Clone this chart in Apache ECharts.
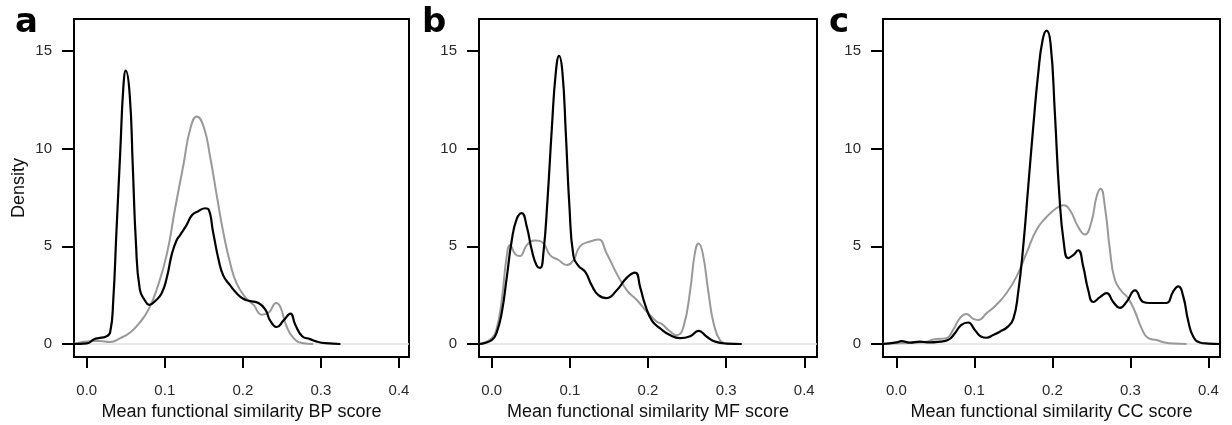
<!DOCTYPE html>
<html>
<head>
    <meta charset="UTF-8">
    <title>Mean functional similarity densities</title>
    <script src="https://cdn.jsdelivr.net/npm/echarts@6/dist/echarts.min.js"></script>
    <style>
        html, body { margin: 0; padding: 0; background: #fff; }
    </style>
</head>
<body>
    <div id="main" style="width:1232px; height:425px;"></div>

    <script>
        // tick values shared by the three panels
        var xTicks = [0, 0.1, 0.2, 0.3, 0.4];
        var yTicks = [0, 5, 10, 15];
        var panelLetters = ['a', 'b', 'c'];
        var xTitles = [
            'Mean functional similarity BP score',
            'Mean functional similarity MF score',
            'Mean functional similarity CC score'
        ];

        // density curves, [score, density]
        var bpBlack = [[-0.0165, 0], [0, 0.03], [0.0095, 0.24], [0.015, 0.3], [0.0243, 0.37], [0.03, 0.6],
            [0.034, 2.25], [0.038, 5.7], [0.043, 9.9], [0.047, 13.2], [0.050, 14.0], [0.055, 12.8],
            [0.059, 9.1], [0.063, 5.2], [0.068, 2.8], [0.075, 2.2], [0.080, 2.0], [0.0876, 2.2],
            [0.096, 2.6], [0.1026, 3.4], [0.109, 4.6], [0.115, 5.3], [0.120, 5.6], [0.128, 6.1],
            [0.135, 6.6], [0.143, 6.8], [0.152, 6.95], [0.156, 6.9], [0.162, 5.7], [0.169, 4.3],
            [0.175, 3.5], [0.1838, 3.0], [0.192, 2.6], [0.201, 2.3], [0.209, 2.2], [0.22, 2.1],
            [0.229, 1.75], [0.235, 1.2], [0.2436, 0.87], [0.252, 1.2], [0.261, 1.55], [0.267, 1.0],
            [0.276, 0.4], [0.286, 0.25], [0.295, 0.12], [0.306, 0.04], [0.325, 0]];
        var bpGrey = [[-0.0165, 0.02], [0.009, 0.15], [0.017, 0.15], [0.03, 0.1], [0.043, 0.3], [0.056, 0.6],
            [0.068, 1.1], [0.079, 1.75], [0.0897, 2.8], [0.1026, 4.6], [0.113, 6.9], [0.124, 9.2],
            [0.1325, 11.0], [0.141, 11.65], [0.150, 11.1], [0.158, 9.6], [0.167, 7.5], [0.175, 5.7],
            [0.184, 4.1], [0.192, 3.1], [0.203, 2.4], [0.2137, 2.0], [0.224, 1.5], [0.233, 1.6],
            [0.2427, 2.1], [0.248, 1.9], [0.256, 0.9], [0.265, 0.3], [0.276, 0.05], [0.29, 0]];

        var mfBlack = [[-0.0165, 0], [0, 0.2], [0.0064, 0.6], [0.0128, 1.6], [0.0192, 3.4], [0.0256, 5.3],
            [0.032, 6.4], [0.0384, 6.7], [0.0449, 6.0], [0.0513, 4.8], [0.0577, 4.0], [0.062, 3.9],
            [0.066, 4.6], [0.0714, 7.4], [0.077, 11.1], [0.082, 13.9], [0.0862, 14.75], [0.0905, 13.9],
            [0.0948, 10.8], [0.0995, 7.0], [0.1046, 4.5], [0.111, 4.0], [0.1195, 3.7], [0.128, 3.0],
            [0.1366, 2.5], [0.147, 2.35], [0.16, 2.75], [0.173, 3.4], [0.1836, 3.65], [0.19, 2.9],
            [0.1964, 2.0], [0.205, 1.2], [0.2156, 0.8], [0.228, 0.46], [0.241, 0.3], [0.254, 0.4],
            [0.2647, 0.67], [0.2753, 0.37], [0.286, 0.12], [0.301, 0.02], [0.32, 0]];
        var mfGrey = [[-0.0165, 0], [0, 0.3], [0.0064, 0.8], [0.0128, 2.25], [0.0192, 4.5], [0.0235, 5.07],
            [0.030, 4.6], [0.036, 4.5], [0.045, 5.07], [0.0555, 5.3], [0.066, 5.15], [0.0747, 4.55],
            [0.0854, 4.3], [0.096, 4.05], [0.1046, 4.3], [0.113, 5.0], [0.126, 5.25], [0.1366, 5.35],
            [0.147, 4.65], [0.16, 3.6], [0.173, 2.75], [0.1857, 2.25], [0.1985, 1.65], [0.211, 1.15],
            [0.218, 1.02], [0.226, 0.72], [0.237, 0.45], [0.2455, 0.9], [0.254, 2.75], [0.26, 4.65],
            [0.2647, 5.15], [0.27, 4.65], [0.2775, 2.6], [0.284, 1.06], [0.2925, 0.17], [0.301, 0.02],
            [0.305, 0]];

        var ccBlack = [[-0.0172, 0], [0, 0.08], [0.0064, 0.15], [0.017, 0.07], [0.03, 0.12], [0.043, 0.08],
            [0.0556, 0.12], [0.066, 0.2], [0.075, 0.55], [0.083, 0.97], [0.092, 1.1], [0.1005, 0.72],
            [0.109, 0.37], [0.1155, 0.32], [0.124, 0.46], [0.1326, 0.63], [0.143, 0.89], [0.15, 1.3],
            [0.156, 2.6], [0.1626, 5.0], [0.169, 8.05], [0.1754, 11.1], [0.1818, 13.85], [0.1874, 15.55],
            [0.1925, 16.04], [0.1976, 15.4], [0.2032, 11.8], [0.2088, 7.7], [0.2147, 5.15], [0.2203, 4.4],
            [0.2267, 4.55], [0.233, 4.8], [0.2396, 3.95], [0.246, 2.75], [0.2524, 2.15], [0.261, 2.4],
            [0.2695, 2.6], [0.278, 2.15], [0.2866, 1.85], [0.295, 2.15], [0.306, 2.75], [0.3166, 2.15],
            [0.325, 2.1], [0.336, 2.1], [0.3465, 2.1], [0.355, 2.7], [0.3615, 2.95], [0.368, 2.4],
            [0.374, 1.2], [0.3807, 0.37], [0.389, 0.08], [0.4, 0.02], [0.415, 0]];
        var ccGrey = [[-0.0172, 0.02], [0.03, 0.07], [0.0385, 0.12], [0.049, 0.24], [0.064, 0.3], [0.0727, 0.72],
            [0.081, 1.3], [0.0898, 1.54], [0.098, 1.3], [0.105, 1.23], [0.1155, 1.57], [0.128, 2.0],
            [0.141, 2.6], [0.154, 3.45], [0.1668, 4.65], [0.1797, 5.85], [0.1925, 6.5], [0.205, 6.95],
            [0.214, 7.1], [0.2225, 6.85], [0.233, 6.0], [0.2417, 5.6], [0.25, 6.25], [0.2567, 7.55],
            [0.2618, 7.95], [0.2674, 7.0], [0.2738, 4.8], [0.28, 3.3], [0.2888, 2.7], [0.297, 2.35],
            [0.306, 1.65], [0.3144, 0.8], [0.323, 0.3], [0.3337, 0.2], [0.344, 0.08], [0.355, 0.02],
            [0.372, 0]];

        var greyCurves = [bpGrey, mfGrey, ccGrey];
        var blackCurves = [bpBlack, mfBlack, ccBlack];

        // layout of the three boxes
        var panels = [
            { left: 74, width: 335, xmin: -0.0163, xmax: 0.4128, letterX: 15 },
            { left: 479, width: 338, xmin: -0.0163, xmax: 0.4163, letterX: 422 },
            { left: 883, width: 337, xmin: -0.0172, xmax: 0.4149, letterX: 829 }
        ];
        var plotTop = 19, plotHeight = 338;
        var yMin = -0.666, yMax = 16.64;

        var labelFont = 'Liberation Sans, Arial, sans-serif';

        var chart = echarts.init(document.getElementById('main'), null, { renderer: 'canvas' });

        var grids = [], xAxes = [], yAxes = [], series = [], graphics = [];
        panels.forEach(function (p, i) {
            grids.push({
                left: p.left, top: plotTop, width: p.width, height: plotHeight,
                outerBoundsMode: 'none', containLabel: false,
                show: true, borderColor: '#000', borderWidth: 2, backgroundColor: 'transparent'
            });
            xAxes.push({
                gridIndex: i, type: 'value', min: p.xmin, max: p.xmax, position: 'bottom',
                axisLine: { show: false, onZero: false },
                axisTick: { show: true, customValues: xTicks, length: 11, lineStyle: { color: '#000', width: 2 } },
                axisLabel: {
                    customValues: xTicks, margin: 26, fontSize: 15, color: '#2a2a2a', fontFamily: labelFont,
                    formatter: function (v) { return v.toFixed(1); }
                },
                splitLine: { show: false },
                name: xTitles[i], nameLocation: 'middle', nameGap: 46,
                nameTextStyle: { fontSize: 18, color: '#111', fontFamily: labelFont }
            });
            yAxes.push({
                gridIndex: i, type: 'value', min: yMin, max: yMax, position: 'left',
                axisLine: { show: false, onZero: false },
                axisTick: { show: true, customValues: yTicks, length: 12, lineStyle: { color: '#000', width: 2 } },
                axisLabel: { customValues: yTicks, margin: 22, fontSize: 15, color: '#2a2a2a', fontFamily: labelFont },
                splitLine: { show: false },
                name: i === 0 ? 'Density' : '', nameLocation: 'middle', nameGap: 46,
                nameTextStyle: { fontSize: 18, color: '#111', fontFamily: labelFont }
            });
            series.push({
                type: 'line', xAxisIndex: i, yAxisIndex: i, data: greyCurves[i],
                showSymbol: false, smooth: 0.5, silent: true,
                lineStyle: { color: '#999999', width: 2 },
                markLine: {
                    silent: true, symbol: ['none', 'none'], label: { show: false },
                    lineStyle: { color: '#e2e2e2', width: 1.5, type: 'solid' },
                    data: [{ yAxis: 0 }], z: 1
                }
            });
            series.push({
                type: 'line', xAxisIndex: i, yAxisIndex: i, data: blackCurves[i],
                showSymbol: false, smooth: 0.5, silent: true,
                lineStyle: { color: '#000', width: 2.2 }
            });
            graphics.push({
                type: 'text', left: p.letterX, top: 6,
                style: { text: panelLetters[i], font: 'bold 34px "DejaVu Sans"', fill: '#000' }
            });
        });

        chart.setOption({
            backgroundColor: '#fff',
            animation: false,
            grid: grids,
            xAxis: xAxes,
            yAxis: yAxes,
            series: series,
            graphic: graphics
        });
    </script>
</body>
</html>
